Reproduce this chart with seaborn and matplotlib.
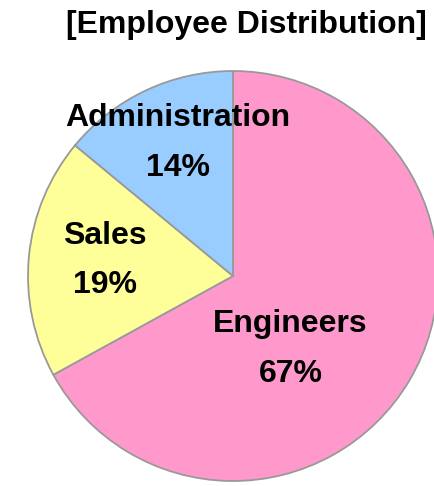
import matplotlib
matplotlib.use('Agg')
import matplotlib.pyplot as plt
import seaborn as sns

# data
groups = ['Engineers', 'Sales', 'Administration']
shares = [67, 19, 14]
colors = ['#FF99CC', '#FFFF99', '#99CCFF']
# label anchor (x, y) in pie units, name line then percent line
label_pos = {'Engineers': (0.28, -0.235, -0.48),
             'Sales': (-0.625, 0.195, -0.045),
             'Administration': (-0.27, 0.77, 0.525)}

sns.set_theme(style='white')
plt.rcParams['font.family'] = ['Liberation Sans', 'DejaVu Sans']

fig = plt.figure(figsize=(4.35, 4.86), dpi=100)
ax = fig.add_axes([28/435, 5/486, 410/435, 410/486])

wedges, _ = ax.pie(shares, colors=colors, startangle=90, counterclock=False,
                   radius=1, wedgeprops=dict(edgecolor='#999999', linewidth=1.3))
for w in wedges:
    w.set_clip_on(False)

for g, s in zip(groups, shares):
    x, y1, y2 = label_pos[g]
    ax.text(x, y1, g, ha='center', va='center', fontsize=23, fontweight='bold', color='black')
    ax.text(x, y2, f'{s}%', ha='center', va='center', fontsize=23, fontweight='bold', color='black')

ax.set_xlim(-1, 1)
ax.set_ylim(-1, 1)
ax.set_aspect('equal')
ax.axis('off')

fig.text(246/435, 1 - 25/486, '[Employee Distribution]', ha='center', va='center',
         fontsize=23, fontweight='bold', color='black')

fig.savefig('out.png', dpi=100)
